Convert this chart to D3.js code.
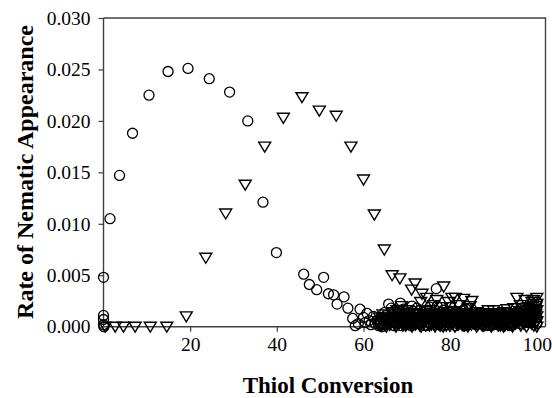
<!DOCTYPE html>
<html><head><meta charset="utf-8">
<script src="https://cdn.jsdelivr.net/npm/d3@7/dist/d3.min.js"></script>
<style>body{margin:0;background:#fff}svg{display:block}
text{font-family:"Liberation Serif","DejaVu Serif",serif}</style>
</head><body>
<script>
const xTicks = [20, 40, 60, 80, 100];
const yTicks = [0, 0.005, 0.010, 0.015, 0.020, 0.025, 0.030];
const xTitle = "Thiol Conversion";
const yTitle = "Rate of Nematic Appearance";

// series 1: circles (x = thiol conversion, y = rate)
const circleX = [0,0,0,0,0.1,1.5,3.7,6.7,10.5,14.9,19.5,24.4,29.1,33.3,36.8,39.9,
46.2,47.5,49.2,50.8,51.9,53.1,53.9,55.5,56.4,57.5,58.1,59.2,58.8,
60.0,60.4,60.8,61.3,61.7,62.3,62.7,63.1,63.5,63.9,64.3,64.7,65.2,65.8,66.2,66.7,67.1,67.6,68.0,68.5,68.9,69.4,69.8,70.3,70.7,71.2,71.6,72.1,72.5,73.0,73.4,73.9,74.3,74.8,75.3,75.7,76.2,76.8,77.2,77.7,78.1,78.6,79.0,79.5,80.0,80.4,80.9,81.3,81.8,82.3,82.7,83.2,83.7,84.1,84.6,85.1,85.5,86.0,86.5,87.0,87.5,88.0,88.5,89.0,89.5,90.0,90.5,91.0,91.5,92.0,92.5,93.0,93.5,94.0,94.5,95.0,95.5,96.0,96.5,97.0,97.5,98.0,98.5,99.0,99.4,99.7,100.0,100.0,100.0,100.0,
64.0,64.9,65.5,66.4,66.9,67.4,67.8,68.3,68.7,69.2,69.6,70.1,70.5,71.0,71.4,71.9,72.3,72.8,73.2,73.7,74.1,74.6,75.0,75.5,76.0,76.5,77.0,77.5,77.9,78.4,78.8,79.3,79.8,80.2,80.7,81.1,81.6,82.0,82.5,83.0,83.4,83.9,84.4,84.8,85.3,85.8,86.3,86.8];
const circleY = [0.0048,0.0011,0.0007,0.0002,0.0000,0.0105,0.0147,0.0188,0.0225,0.0248,0.0251,0.0241,0.0228,0.0200,0.0121,0.0072,
0.0051,0.0041,0.0036,0.0048,0.0032,0.0031,0.0022,0.0029,0.0018,0.0008,0.0001,0.0017,0.0003,
0.0009,0.0004,0.0013,0.0006,0.0002,0.0010,0.0003,0.0006,0.0001,0.0004,0.0000,0.0002,0.0007,0.0022,0.0004,0.0012,0.0001,0.0008,0.0016,0.0023,0.0005,0.0011,0.0002,0.0014,0.0006,0.0020,0.0009,0.0003,0.0012,0.0016,0.0004,0.0009,0.0001,0.0013,0.0019,0.0006,0.0010,0.0037,0.0003,0.0014,0.0007,0.0011,0.0002,0.0009,0.0015,0.0005,0.0012,0.0001,0.0008,0.0013,0.0004,0.0010,0.0017,0.0003,0.0009,0.0014,0.0006,0.0002,0.0010,0.0005,0.0012,0.0001,0.0008,0.0004,0.0011,0.0002,0.0007,0.0010,0.0003,0.0008,0.0012,0.0004,0.0009,0.0001,0.0011,0.0006,0.0014,0.0003,0.0010,0.0016,0.0005,0.0012,0.0019,0.0007,0.0021,0.0013,0.0024,0.0017,0.0009,0.0003,
0.0009,0.0014,0.0003,0.0018,0.0009,0.0004,0.0013,0.0007,0.0001,0.0017,0.0008,0.0004,0.0010,0.0001,0.0015,0.0006,0.0018,0.0008,0.0002,0.0012,0.0006,0.0016,0.0009,0.0003,0.0014,0.0005,0.0020,0.0009,0.0001,0.0016,0.0006,0.0012,0.0004,0.0019,0.0009,0.0014,0.0003,0.0011,0.0007,0.0016,0.0001,0.0012,0.0006,0.0018,0.0010,0.0004,0.0013,0.0008];
const circleX2 = [87.2,87.8,88.3,88.9,89.3,89.8,90.3,90.8,91.3,91.8,92.3,92.8,93.3,93.8,94.3,94.8,95.3,95.8,96.3,96.8,97.3,97.8,98.3,98.8,99.2,99.6];
const circleY2 = [0.0003,0.0010,0.0005,0.0013,0.0001,0.0008,0.0012,0.0004,0.0009,0.0002,0.0011,0.0006,0.0014,0.0003,0.0008,0.0012,0.0005,0.0010,0.0018,0.0007,0.0013,0.0004,0.0016,0.0009,0.0014,0.0006];

// series 2: inverted triangles
const triX = [0.4,2.7,4.6,7.3,10.8,14.6,19.1,23.6,28.2,32.7,37.2,41.5,45.8,49.8,53.7,57.1,60.0,62.5,64.8,66.6,68.4,
65.5,66.0,66.9,67.4,67.9,68.8,69.3,69.7,70.2,70.6,71.1,71.5,71.9,72.3,72.8,73.2,73.5,73.9,74.3,74.6,75.0,75.4,75.8,76.2,76.6,76.9,77.3,77.7,78.1,78.5,78.9,79.3,79.6,80.0,80.4,80.8,81.2,81.5,81.9,82.3,82.7,83.1,83.5,83.9,84.2,84.6,85.0,85.4,85.8,86.2,86.6,87.0,87.4,87.8,88.2,88.8,89.2,89.6,90.0,90.4,90.8,91.2,91.6,92.0,92.4,92.8,93.1,93.5,93.9,94.3,94.7,95.0,95.4,95.8,96.2,96.6,97.0,97.3,97.7,98.1,98.5,98.9,99.2,99.5,99.8,100.0,100.0,100.0,100.0,100.0,100.0,
63.2,63.7,64.2,64.5,65.1,65.8,66.3,67.2,67.7,68.1,68.6,69.0,69.5,70.0,70.4,70.9,71.3,71.7,72.1,72.6,73.0,73.7,74.1,74.8,75.2,75.6,76.0,76.4,76.8,77.1,77.5,77.9,78.3,78.7,79.1,79.8,80.2,80.6,81.0,81.7,82.1,82.5,82.9,83.3,83.7,84.4,84.8,85.2,85.6,86.0,86.4,86.8,87.2,87.6,88.0,88.5,89.0,89.4,89.8,90.2,90.6,91.0,91.4,91.8,92.2,92.6,93.0,93.3,93.7,94.1,94.5,94.9,95.2,95.6,96.0,96.4,96.8,97.1,97.5,97.9,98.3,98.7,99.0,99.4,99.7];
const triY = [0,0,0,0,0,0,0.0010,0.0067,0.0110,0.0138,0.0175,0.0203,0.0223,0.0210,0.0205,0.0175,0.0143,0.0109,0.0075,0.0050,0.0047,
0.0008,0.0002,0.0014,0.0004,0.0010,0.0020,0.0006,0.0001,0.0016,0.0009,0.0036,0.0002,0.0042,0.0011,0.0005,0.0024,0.0032,0.0008,0.0015,0.0028,0.0003,0.0016,0.0010,0.0021,0.0004,0.0026,0.0012,0.0001,0.0019,0.0039,0.0007,0.0014,0.0024,0.0019,0.0028,0.0015,0.0028,0.0006,0.0021,0.0011,0.0002,0.0027,0.0013,0.0005,0.0018,0.0020,0.0025,0.0009,0.0003,0.0014,0.0007,0.0011,0.0001,0.0009,0.0004,0.0016,0.0008,0.0002,0.0016,0.0010,0.0005,0.0012,0.0001,0.0009,0.0014,0.0004,0.0017,0.0008,0.0013,0.0002,0.0018,0.0011,0.0028,0.0006,0.0021,0.0015,0.0003,0.0026,0.0012,0.0019,0.0007,0.0024,0.0026,0.0015,0.0020,0.0028,0.0022,0.0016,0.0010,0.0005,0.0000,
0.0003,0.0009,0.0001,0.0012,0.0005,0.0011,0.0007,0.0002,0.0016,0.0006,0.0012,0.0003,0.0009,0.0005,0.0013,0.0002,0.0007,0.0013,0.0004,0.0009,0.0001,0.0006,0.0011,0.0008,0.0001,0.0005,0.0012,0.0002,0.0008,0.0005,0.0010,0.0003,0.0007,0.0012,0.0001,0.0006,0.0010,0.0003,0.0008,0.0012,0.0004,0.0009,0.0006,0.0001,0.0008,0.0003,0.0011,0.0005,0.0012,0.0008,0.0002,0.0010,0.0005,0.0013,0.0002,0.0011,0.0005,0.0012,0.0007,0.0003,0.0013,0.0008,0.0004,0.0011,0.0006,0.0001,0.0010,0.0005,0.0002,0.0009,0.0006,0.0013,0.0004,0.0010,0.0015,0.0008,0.0012,0.0005,0.0018,0.0009,0.0013,0.0004,0.0017,0.0009,0.0003];
const triX2 = [63.5,63.9,64.4,64.7,65.3,65.6,66.1,66.5,67.0,67.5,67.8,68.2,68.7,69.1,69.4,69.9,70.3,70.8,71.2,71.6,72.0,72.4,72.9,73.3,73.6,74.0,74.4,74.9,75.3,75.7,76.1,76.5,76.7,77.2,77.6,78.0,78.4,78.8,79.2,79.5,79.9,80.3,80.7,81.1,81.4,81.8,82.2,82.6,83.0,83.4,83.8,84.1,84.5,84.9,85.3,85.7,86.1,86.5,86.9,87.3,87.7,88.1,88.4,88.7,89.1,89.5,89.9,90.3,90.7,91.1,91.5,91.9,92.3,92.7,93.2,93.6,94.0,94.4,94.8,95.1,95.5,95.9,96.3,96.7,97.2,97.6,98.0,98.4,98.8,99.1,99.3,99.6,99.9];
const triY2 = [0.0005,0.0001,0.0007,0.0003,0.0000,0.0006,0.0002,0.0009,0.0004,0.0000,0.0007,0.0003,0.0008,0.0001,0.0005,0.0002,0.0009,0.0004,0.0000,0.0006,0.0002,0.0008,0.0003,0.0000,0.0007,0.0004,0.0001,0.0009,0.0005,0.0002,0.0007,0.0000,0.0004,0.0008,0.0002,0.0006,0.0000,0.0005,0.0009,0.0003,0.0001,0.0007,0.0004,0.0000,0.0006,0.0002,0.0009,0.0005,0.0001,0.0007,0.0003,0.0000,0.0006,0.0002,0.0008,0.0004,0.0000,0.0006,0.0003,0.0009,0.0001,0.0005,0.0008,0.0002,0.0006,0.0000,0.0004,0.0009,0.0003,0.0001,0.0007,0.0004,0.0000,0.0006,0.0002,0.0008,0.0004,0.0000,0.0007,0.0003,0.0009,0.0005,0.0001,0.0008,0.0004,0.0000,0.0006,0.0010,0.0003,0.0007,0.0001,0.0011,0.0005];

const W = 552, H = 398;
const svg = d3.select("body").append("svg").attr("width", W).attr("height", H);
const x = d3.scaleLinear().domain([0, 102]).range([103.5, 545.5]);
const y = d3.scaleLinear().domain([0, 0.030]).range([326.7, 18]);
const axisColor = "#404040";

svg.append("path")
  .attr("d", `M${x(0)},${y(0.030)}H${x(102)}V${y(0)}`)
  .attr("fill", "none").attr("stroke", axisColor).attr("stroke-width", 1.4);

const xAxis = svg.append("g").attr("transform", `translate(0,${y(0)})`)
  .call(d3.axisBottom(x).tickValues(xTicks).tickSize(5).tickPadding(5).tickFormat(d3.format("d")));
const yAxis = svg.append("g").attr("transform", `translate(${x(0)},0)`)
  .call(d3.axisLeft(y).tickValues(yTicks).tickSize(5).tickPadding(8).tickFormat(d3.format(".3f")));
[xAxis, yAxis].forEach(g => {
  g.attr("font-family", null);
  g.select(".domain").attr("stroke", axisColor).attr("stroke-width", 1.4);
  g.selectAll(".tick line").attr("stroke", axisColor).attr("stroke-width", 1.2);
  g.selectAll("text").style("font-family", "'Liberation Serif','DejaVu Serif',serif")
    .attr("font-size", 19.5).attr("fill", "#000");
});
xAxis.select(".domain").attr("d", `M${x(0)-1},0H${x(102)}`);
yAxis.select(".domain").attr("d", `M0,${y(0)}V${y(0.030)}`);

const pairs = (xs, ys) => xs.map((v, i) => ({x: v, y: ys[i]})).filter(d => d.y !== undefined);
const circles = pairs(circleX, circleY).concat(pairs(circleX2, circleY2));
const tris = pairs(triX, triY).concat(pairs(triX2, triY2));

svg.append("g").selectAll("circle").data(circles).join("circle")
  .attr("cx", d => x(d.x)).attr("cy", d => y(d.y)).attr("r", 5)
  .attr("fill", "none").attr("stroke", "#000").attr("stroke-width", 1.3);

svg.append("g").selectAll("path").data(tris).join("path")
  .attr("transform", d => `translate(${x(d.x)},${y(d.y)})`)
  .attr("d", "M-6,-4.5L6,-4.5L0,5.5Z")
  .attr("fill", "none").attr("stroke", "#000").attr("stroke-width", 1.4);

svg.append("text").attr("x", 328).attr("y", 393)
  .attr("text-anchor", "middle").style("font-family", "'Liberation Serif','DejaVu Serif',serif")
  .attr("font-weight", "bold").attr("font-size", 23).text(xTitle);
svg.append("text").attr("transform", "translate(33,172) rotate(-90)")
  .attr("text-anchor", "middle").style("font-family", "'Liberation Serif','DejaVu Serif',serif")
  .attr("font-weight", "bold").attr("font-size", 24).text(yTitle);
</script>
</body></html>
